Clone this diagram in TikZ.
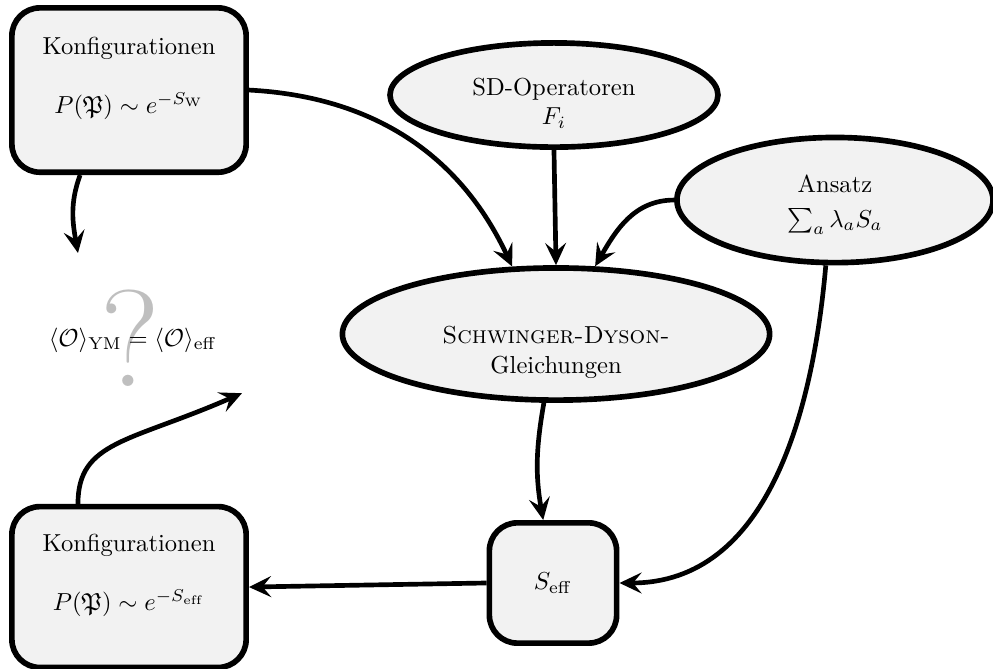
\documentclass[tikz,border=0pt]{standalone}
\usepackage{amsmath,amssymb}
\usetikzlibrary{shapes.geometric,arrows.meta}

\begin{document}
\begin{tikzpicture}[
  box/.style={draw, line width=2.3pt, fill=black!5, rounded corners=0.4cm, align=center},
  oval/.style={draw, ellipse, line width=2.3pt, fill=black!5, align=center, inner sep=0pt},
  pfeil/.style={line width=1.9pt, -{Stealth[length=9pt, width=8.5pt, inset=3.5pt]}}
]

\useasboundingbox (0,0) rectangle (14.2,9.553);

\coordinate (K1) at (1.845,8.265);
\coordinate (SD) at (7.922,8.194);
\coordinate (AN) at (11.94,6.692);
\coordinate (SG) at (7.951,4.776);
\coordinate (SE) at (7.908,1.216);
\coordinate (K2) at (1.845,1.158);
\coordinate (EQ) at (1.90,4.690);
\coordinate (ask) at (1.115,5.935);
\coordinate (back) at (3.46,3.93);


\node [text=black!25, font=\fontsize{56}{60}\selectfont] (qm) at (1.86,4.72) {?};
\node (eq) at (EQ) {$\langle\mathcal{O}\rangle_{\mathrm{YM}} = \langle\mathcal{O}\rangle_{\mathrm{eff}}$};

\node [box, minimum width=3.35cm, minimum height=2.35cm] (konf1) at (K1)
  {Konfigurationen\\[12pt] $P(\mathfrak{P}) \sim e^{-S_{\mathrm{W}}}$\\[-3.5pt]\strut};
\node [oval, minimum width=4.69cm, minimum height=1.49cm] (sdop) at (SD)
  {\rule{0pt}{13.5pt}SD-Operatoren\\ $F_i$};
\node [oval, minimum width=4.52cm, minimum height=1.79cm] (ansatz) at (AN)
  {\rule{0pt}{11pt}Ansatz\\[2pt] $\sum_a \lambda_a S_a$};
\node [oval, minimum width=6.11cm, minimum height=1.89cm] (sdg) at (SG)
  {\rule{0pt}{22pt}\textsc{Schwinger-Dyson-}\\ Gleichungen};
\node [box, minimum width=1.82cm, minimum height=1.72cm] (seff) at (SE)
  {$S_{\mathrm{eff}}$};
\node [box, minimum width=3.35cm, minimum height=2.3cm] (konf2) at (K2)
  {Konfigurationen\\[12pt] $P(\mathfrak{P}) \sim e^{-S_{\mathrm{eff}}}$\\[-3.5pt]\strut};


\draw [pfeil] (konf1.east) to [out=-3, in=115] (sdg.123);
\draw [pfeil] (sdop.south) -- (sdg.north);
\draw [pfeil] (ansatz.west) to [out=180, in=60] (sdg.60);
\draw [pfeil] (ansatz.-98) to [out=-95, in=0] (seff.east);
\draw [pfeil] (sdg.-100) to [out=-100, in=100] ([xshift=-0.14cm]seff.north);
\draw [pfeil] (seff.west) -- (konf2.east);
\draw [pfeil] ([xshift=-0.7cm]konf1.south) to [out=-110, in=100] (ask);
\draw [pfeil] ([xshift=-0.73cm]konf2.north) .. controls +(0,0.9) and +(-1.6,-0.7) .. (back);


\end{tikzpicture}
\end{document}
